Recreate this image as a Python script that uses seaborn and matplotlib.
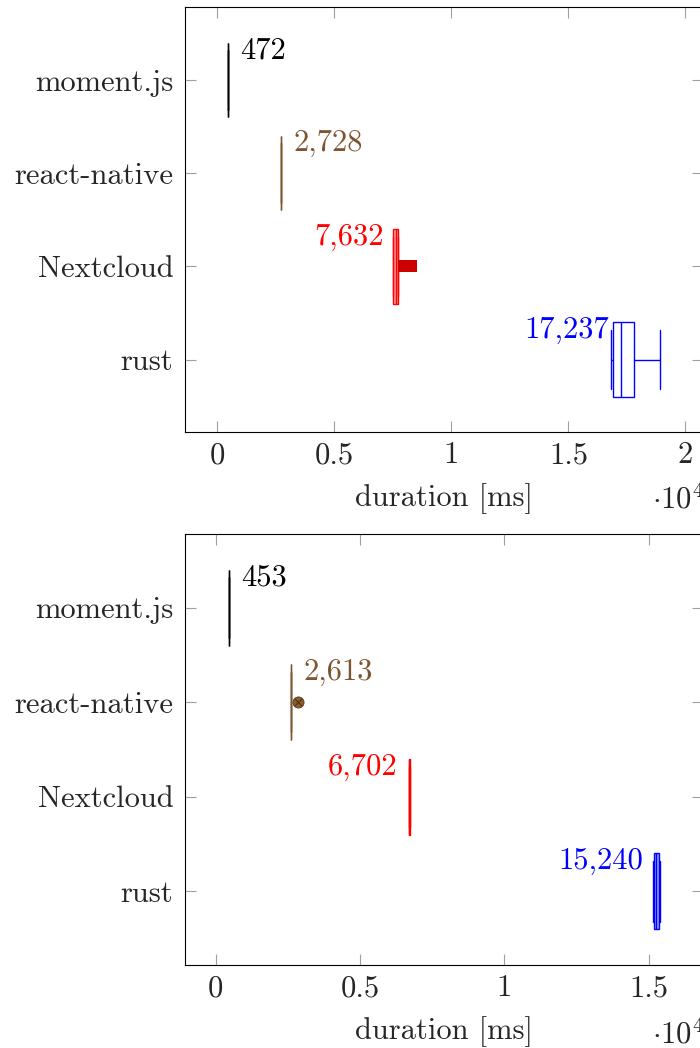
import numpy as np
import pandas as pd
import matplotlib
matplotlib.use("Agg")
import matplotlib.pyplot as plt
import seaborn as sns

# ---------------- data ----------------
projects = ["moment.js", "react-native", "Nextcloud", "rust"]
colors = ["#000000", "#7d5631", "#ff0000", "#0000ff"]
label_side = ["right", "right", "left", "left"]

# five-number summaries: [lower whisker, Q1, median, Q3, upper whisker]
top_moment = [472, 472, 472, 472, 472]
top_react = [2714, 2718, 2728, 2738, 2742]
top_nextcloud = [7495, 7521, 7632, 7709, 7712]
top_rust = [16825, 16897, 17237, 17795, 18932]
top_nextcloud_outliers = [7960, 8120, 8285]
top_fills = ["#ffffff", "#b08a66", "#ff9a9a", "#ffffff"]
top_labels = ["472", "2,728", "7,632", "17,237"]

bot_moment = [453, 453, 453, 453, 453]
bot_react = [2613, 2613, 2613, 2613, 2613]
bot_nextcloud = [6688, 6692, 6702, 6722, 6726]
bot_rust = [15142, 15197, 15240, 15350, 15405]
bot_react_outliers = [2843]
bot_fills = ["#ffffff", "#ffffff", "#ff0000", "#9c9cff"]
bot_labels = ["453", "2,613", "6,702", "15,240"]

top_xticks = [0, 5000, 10000, 15000, 20000]
top_xticklabels = ["0", "0.5", "1", "1.5", "2"]
bot_xticks = [0, 5000, 10000, 15000]
bot_xticklabels = ["0", "0.5", "1", "1.5"]

# ---------------- style ----------------
sns.set_style("ticks")
plt.rcParams["font.family"] = ["cmr10", "DejaVu Serif"]
plt.rcParams["mathtext.fontset"] = "cm"
plt.rcParams["axes.unicode_minus"] = False
plt.rcParams["axes.formatter.use_mathtext"] = True
plt.rcParams["axes.linewidth"] = 0.8
plt.rcParams["axes.edgecolor"] = "#000000"

FS = 22

fig = plt.figure(figsize=(7.0, 10.48), dpi=100)
ax_top = fig.add_axes([185 / 700, 1 - 432.3 / 1048, 518 / 700, 425 / 1048])
ax_bot = fig.add_axes([185 / 700, 1 - 965 / 1048, 518 / 700, 431 / 1048])


def draw(ax, boxes, fills, labels, xlim, xticks, xticklabels, offset_y):
    for i, (name, vals) in enumerate(zip(projects, boxes)):
        df = pd.DataFrame({"project": [name] * len(vals), "duration": vals})
        sns.boxplot(data=df, x="duration", y="project", order=projects, orient="h",
                    whis=(0, 100), width=0.8, color=fills[i], linecolor=colors[i],
                    linewidth=1.0, saturation=1, showfliers=False, ax=ax)
    # wider caps, as in the reference
    for c in ax.containers:
        caps = getattr(c, "caps", None)
        if caps is None:
            continue
        for cap in caps:
            y = np.asarray(cap.get_ydata(), dtype=float)
            m = y.mean()
            cap.set_ydata([m - 0.32, m + 0.32])
    for i, (vals, txt) in enumerate(zip(boxes, labels)):
        right = label_side[i] == "right"
        ax.annotate(txt, xy=(vals[2], i - 0.235),
                    xytext=(8.6 if right else -8.6, 0), textcoords="offset points",
                    ha="left" if right else "right", va="baseline",
                    color=colors[i], fontsize=FS)
    ax.set_xlim(*xlim)
    ax.set_ylim(3.78, -0.78)
    ax.set_xticks(xticks)
    ax.set_xticklabels(xticklabels)
    ax.tick_params(axis="both", which="both", direction="in", length=8, width=0.8,
                   color="#a0a0a0", top=True, right=True, labelsize=FS)
    ax.tick_params(axis="y", pad=8.5)
    ax.tick_params(axis="x", pad=7)
    for s in ax.spines.values():
        s.set_visible(True)
        s.set_color("black")
        s.set_linewidth(0.8)
    ax.text(0.901, offset_y, r"$\cdot10^{4}$", transform=ax.transAxes,
            fontsize=FS, ha="left", va="baseline")


draw(ax_top, [top_moment, top_react, top_nextcloud, top_rust], top_fills, top_labels,
     (-1380, 20756), top_xticks, top_xticklabels, -0.178)
sns.stripplot(x=top_nextcloud_outliers, y=["Nextcloud"] * len(top_nextcloud_outliers),
              order=projects, orient="h", jitter=False, marker="s", size=8,
              color="#cc0000", linewidth=0, ax=ax_top)

draw(ax_bot, [bot_moment, bot_react, bot_nextcloud, bot_rust], bot_fills, bot_labels,
     (-1064, 16885), bot_xticks, bot_xticklabels, -0.182)
sns.stripplot(x=bot_react_outliers, y=["react-native"] * len(bot_react_outliers),
              order=projects, orient="h", jitter=False, marker="o", size=8,
              color="#8a5c2e", edgecolor="#5a3a1a", linewidth=0.6, ax=ax_bot)
sns.stripplot(x=bot_react_outliers, y=["react-native"] * len(bot_react_outliers),
              order=projects, orient="h", jitter=False, marker="x", size=5,
              color="#4a2e12", linewidth=0.7, ax=ax_bot)

for ax, xl in ((ax_top, (-1380, 20756)), (ax_bot, (-1064, 16885))):
    ax.set_ylim(3.78, -0.78)
    ax.set_xlim(*xl)
    ax.set_ylabel("")
    ax.set_xlabel("duration [ms]", fontsize=FS, labelpad=10)

fig.savefig("out.png", dpi=100)
